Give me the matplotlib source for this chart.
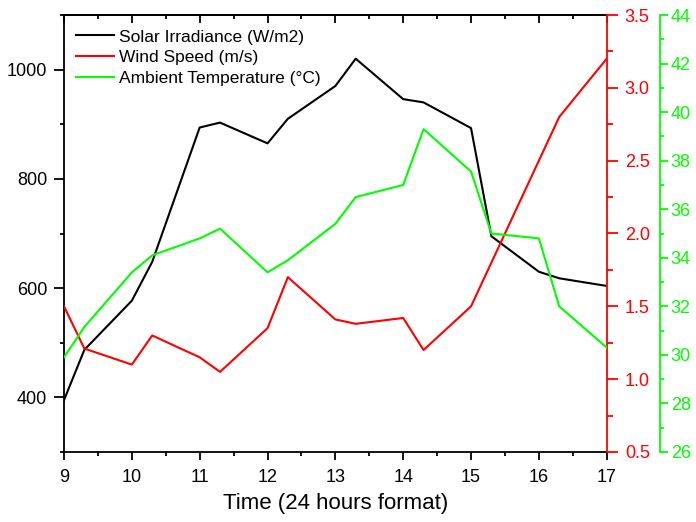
import numpy as np
import matplotlib
matplotlib.use('Agg')
import matplotlib.pyplot as plt
from matplotlib.ticker import MultipleLocator

# hours written as h.m style (9.3 = 9:30 plotted as 9.3)
hours = [9, 9.3, 10, 10.3, 11, 11.3, 12, 12.3, 13, 13.3, 14, 14.3, 15, 15.3, 16, 16.3, 17]
irradiance = [395, 487, 577, 648, 894, 903, 865, 910, 970, 1020, 946, 940, 893, 695, 630, 618, 604]
wind_speed = [1.50, 1.21, 1.10, 1.30, 1.15, 1.05, 1.35, 1.70, 1.41, 1.38, 1.42, 1.20, 1.50, 1.80, 2.50, 2.80, 3.20]
temperature = [29.9, 31.15, 33.4, 34.1, 34.8, 35.2, 33.4, 33.9, 35.4, 36.5, 37.0, 39.3, 37.55, 35.0, 34.8, 32.0, 30.3]

plt.rcParams['font.family'] = ['Liberation Sans', 'DejaVu Sans']

fig = plt.figure(figsize=(6.96, 5.22), dpi=100)
ax = fig.add_axes([64 / 696, 1 - 452 / 522, (606.7 - 64) / 696, (452 - 15) / 522])
ax_w = ax.twinx()
ax_t = ax.twinx()

green = '#00ff00'
red = '#ff0000'
lw = 1.5
fs = 13

l1, = ax.plot(hours, irradiance, color='black', lw=lw, label='Solar Irradiance (W/m2)')
l2, = ax_w.plot(hours, wind_speed, color=red, lw=lw, label='Wind Speed (m/s)')
l3, = ax_t.plot(hours, temperature, color=green, lw=lw, label='Ambient Temperature (°C)')

# host axis
ax.set_xlim(9, 17)
ax.set_ylim(300, 1100)
ax.xaxis.set_major_locator(MultipleLocator(1))
ax.xaxis.set_minor_locator(MultipleLocator(0.5))
ax.yaxis.set_major_locator(MultipleLocator(200))
ax.yaxis.set_minor_locator(MultipleLocator(100))
ax.tick_params(axis='x', which='major', direction='out', labelsize=fs, width=1.3, length=6, pad=6)
ax.tick_params(axis='y', which='major', direction='out', labelsize=fs, width=1.3, length=7, pad=5)
ax.tick_params(axis='both', which='minor', direction='out', width=1.3, length=3)
ax.spines['right'].set_visible(False)
for s in ['left', 'bottom', 'top']:
    ax.spines[s].set_linewidth(1.3)
ax.set_xlabel('Time (24 hours format)', fontsize=16, labelpad=5)

# top ticks pointing inward
top = ax.secondary_xaxis('top')
top.xaxis.set_major_locator(MultipleLocator(1))
top.xaxis.set_minor_locator(MultipleLocator(0.5))
top.tick_params(which='major', direction='in', length=6, width=1.3, labeltop=False)
top.tick_params(which='minor', direction='in', length=3, width=1.3)
top.spines['top'].set_linewidth(1.3)

# wind speed axis
ax_w.set_ylim(0.5, 3.5)
ax_w.yaxis.set_major_locator(MultipleLocator(0.5))
ax_w.yaxis.set_minor_locator(MultipleLocator(0.25))
ax_w.yaxis.set_major_formatter(matplotlib.ticker.FormatStrFormatter('%.1f'))
ax_w.spines['right'].set_color(red)
ax_w.spines['right'].set_linewidth(1.3)
for s in ['left', 'top', 'bottom']:
    ax_w.spines[s].set_visible(False)
ax_w.tick_params(axis='y', which='major', colors=red, labelsize=fs, length=8, width=1.3, pad=5)
ax_w.tick_params(axis='y', which='minor', colors=red, length=4, width=1.3)

# temperature axis
ax_t.spines['right'].set_position(('outward', 53 * 0.72))
ax_t.set_ylim(26, 44)
ax_t.yaxis.set_major_locator(MultipleLocator(2))
ax_t.yaxis.set_minor_locator(MultipleLocator(1))
ax_t.spines['right'].set_color(green)
ax_t.spines['right'].set_linewidth(1.3)
for s in ['left', 'top', 'bottom']:
    ax_t.spines[s].set_visible(False)
ax_t.tick_params(axis='y', which='major', colors=green, labelsize=fs, length=6, width=1.3, pad=2)
ax_t.tick_params(axis='y', which='minor', colors=green, length=3, width=1.3)

ax.legend(handles=[l1, l2, l3], loc='upper left', bbox_to_anchor=(0.022, 0.967),
          frameon=False, fontsize=12.5, borderpad=0, borderaxespad=0,
          handlelength=2.2, handletextpad=0.3, labelspacing=0.33)

fig.savefig('out.png', dpi=100)
